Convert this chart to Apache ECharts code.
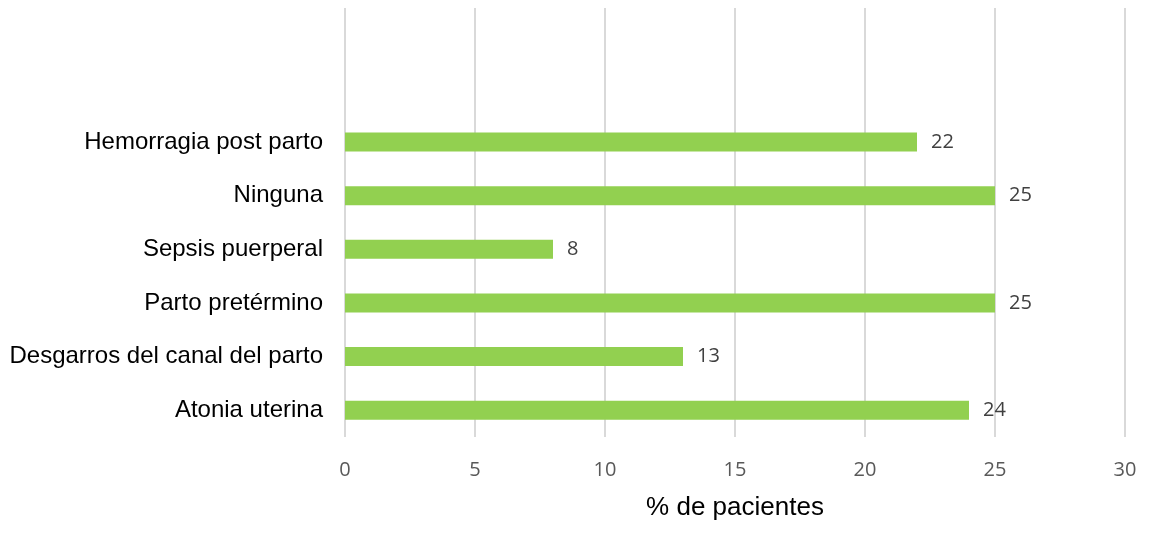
<!DOCTYPE html>
<html><head><meta charset="utf-8">
<script src="https://cdn.jsdelivr.net/npm/echarts@6/dist/echarts.min.js"></script>
<style>html,body{margin:0;padding:0;background:#fff}#c{width:1159px;height:554px}</style>
</head><body><div id="c"></div>
<script>
const categories = ['Atonia uterina', 'Desgarros del canal del parto', 'Parto pretérmino', 'Sepsis puerperal', 'Ninguna', 'Hemorragia post parto', '', ''];
const values = [24, 13, 25, 8, 25, 22, null, null];
const xTicks = [0, 5, 10, 15, 20, 25, 30];
const axisTitle = '% de pacientes';

const chart = echarts.init(document.getElementById('c'), null, {renderer: 'canvas'});
chart.setOption({
  animation: false,
  grid: {left: 345, right: 34, top: 8, bottom: 117, containLabel: false},
  xAxis: {
    type: 'value', min: xTicks[0], max: xTicks[xTicks.length - 1], interval: 5,
    name: axisTitle, nameLocation: 'middle', nameGap: 58,
    nameTextStyle: {fontFamily: 'Liberation Sans', fontSize: 26, color: '#000'},
    axisLine: {show: false}, axisTick: {show: false},
    axisLabel: {fontFamily: 'Open Sans', fontSize: 20, color: '#595959', margin: 23},
    splitLine: {show: true, lineStyle: {color: '#d9d9d9', width: 2}}
  },
  yAxis: {
    type: 'category', data: categories,
    axisLine: {show: false}, axisTick: {show: false},
    axisLabel: {fontFamily: 'Liberation Sans', fontSize: 24, color: '#000', margin: 22}
  },
  series: [{
    type: 'bar', data: values, barWidth: 19,
    itemStyle: {color: '#92d050'},
    label: {show: true, position: 'right', distance: 14, fontFamily: 'Open Sans', fontSize: 20, color: '#404040'}
  }]
});
</script></body></html>
